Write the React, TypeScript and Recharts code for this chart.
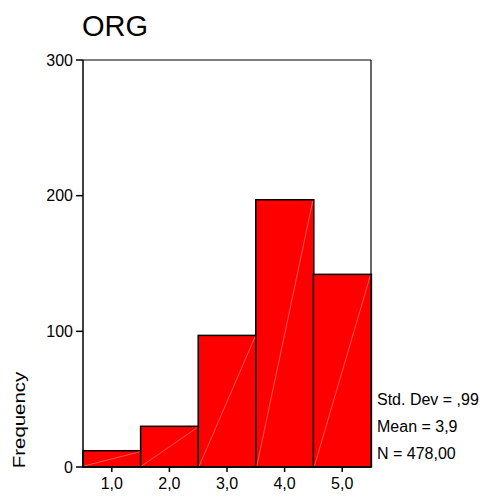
import React from 'react';
import { BarChart, Bar, XAxis, YAxis, ReferenceLine } from 'recharts';

const categories = ['1,0', '2,0', '3,0', '4,0', '5,0'];
const frequencies = [12, 30, 97, 197, 142];
const yTicks = [0, 100, 200, 300];
const statLines = ['Std. Dev = ,99', 'Mean = 3,9', 'N = 478,00'];

const data = categories.map((c, i) => ({ bin: c, freq: frequencies[i] }));

const font = 'Arial, "Liberation Sans", sans-serif';

function HistBar(props: any) {
  const { x, y, width, height } = props;
  if (!height) return null;
  return (
    <g>
      <rect x={x} y={y} width={width} height={height} fill="#FF0000" stroke="#000" strokeWidth={1.5} />
      <line x1={x + 1} y1={y + height - 1} x2={x + width - 1} y2={y + 1} stroke="#FF9090" strokeWidth={0.6} />
    </g>
  );
}

export default function App() {
  return (
    <div style={{ position: 'absolute', left: 0, top: 0, width: 486, height: 497, background: '#fff', fontFamily: font }}>
      <div style={{ position: 'absolute', left: 82, top: 10, fontSize: 29, lineHeight: 'normal', color: '#000' }}>ORG</div>
      <div
        style={{
          position: 'absolute',
          left: 20,
          top: 420,
          fontSize: 17,
          lineHeight: 'normal',
          transform: 'translate(-50%, -50%) rotate(-90deg) scaleX(1.2)',
          whiteSpace: 'nowrap',
        }}
      >
        Frequency
      </div>
      {statLines.map((s, i) => (
        <div key={s} style={{ position: 'absolute', left: 377, top: 390.5 + i * 27.4, fontSize: 16, whiteSpace: 'nowrap' }}>
          {s}
        </div>
      ))}
      <BarChart
        width={486}
        height={497}
        data={data}
        barCategoryGap={0}
        margin={{ top: 60, right: 114, bottom: 0, left: 23 }}
        style={{ position: 'absolute', left: 0, top: 0 }}
      >
        <XAxis
          dataKey="bin"
          height={30}
          stroke="#000"
          strokeWidth={1.5}
          tickSize={5}
          tickMargin={6}
          tick={{ fill: '#000', fontSize: 16, fontFamily: font }}
        />
        <YAxis
          domain={[0, 300]}
          ticks={yTicks}
          width={60}
          stroke="#000"
          strokeWidth={1.5}
          tickSize={7}
          tickMargin={3}
          interval={0}
          tick={{ fill: '#000', fontSize: 16, fontFamily: font }}
        />
        <YAxis yAxisId="right" orientation="right" domain={[0, 300]} width={1} tick={false} stroke="#000" strokeWidth={1.2} />
        <ReferenceLine y={300} stroke="#000" strokeWidth={1.2} ifOverflow="visible" />
        <Bar dataKey="freq" shape={<HistBar />} isAnimationActive={false} />
      </BarChart>
    </div>
  );
}
